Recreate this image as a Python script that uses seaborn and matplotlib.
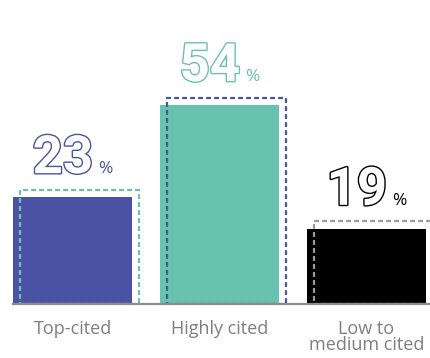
import matplotlib
matplotlib.use("Agg")
import matplotlib.pyplot as plt
import matplotlib.patheffects as pe
import seaborn as sns
import pandas as pd

categories = ["Top-cited", "Highly cited", "Low to\nmedium cited"]
percent_labels = [23, 54, 19]
bar_heights = [29.0, 54.0, 20.4]
bar_colors = ["#4b52a4", "#69c2ad", "#000000"]
outline_colors = ["#69c2ad", "#4b52a4", "#9a9a9a"]
number_colors = ["#4b52a4", "#69c2ad", "#000000"]

df = pd.DataFrame({"category": categories, "height": bar_heights})

sns.set_style("white")
plt.rcParams["font.family"] = ["Open Sans", "DejaVu Sans"]

fig = plt.figure(figsize=(4.31, 3.58), dpi=100)
W, H = 431, 358
ax = fig.add_axes([13 / W, 54 / H, (431 - 13) / W, (358 - 54) / H])

sns.barplot(data=df, x="category", y="height", hue="category",
            palette=bar_colors, width=0.81, legend=False, ax=ax,
            saturation=1, edgecolor="none", linewidth=0)

dx, dh = 0.045, 2.0
for i, h in enumerate(bar_heights):
    ax.bar(i + dx, h + dh, width=0.81, fill=False, edgecolor=outline_colors[i],
           linestyle=(0, (2.2, 1.4)), linewidth=1.6, zorder=3)

ax.set_xlim(-0.405, 2.439)
ax.set_ylim(0, 82.5)
ax.set_yticks([])
ax.set_xlabel("")
ax.set_ylabel("")
for s in ["top", "right", "left"]:
    ax.spines[s].set_visible(False)
ax.spines["bottom"].set_color("#8c8c8c")
ax.spines["bottom"].set_linewidth(1.6)
ax.spines["bottom"].set_zorder(5)
ax.tick_params(axis="x", length=0, pad=11.5, labelsize=13, labelcolor="#7f7f7f")
for lab in ax.get_xticklabels():
    lab.set_linespacing(0.85)
    lab.set_verticalalignment("top")

nums, pcts = [], []
for i, (v, h) in enumerate(zip(percent_labels, bar_heights)):
    c = number_colors[i]
    t = ax.annotate(f"{v}", xy=(i, h), xytext=(0, 24), textcoords="offset pixels",
                    ha="left", va="baseline", fontsize=38, color="white",
                    fontfamily=["Roboto", "DejaVu Sans"], fontweight="bold",
                    path_effects=[pe.withStroke(linewidth=2.0, foreground=c)])
    p = ax.annotate("%", xy=(i, h), xytext=(0, 24), textcoords="offset pixels",
                    ha="left", va="baseline", fontsize=12.5, color=c)
    nums.append(t)
    pcts.append(p)

fig.canvas.draw()
r = fig.canvas.get_renderer()
gap = 5
for t, p in zip(nums, pcts):
    wn = t.get_window_extent(r).width
    wp = p.get_window_extent(r).width
    total = wn + gap + wp
    t.set_position((-total / 2, 24))
    p.set_position((-total / 2 + wn + gap, 24))

fig.savefig("out.png", dpi=100)
